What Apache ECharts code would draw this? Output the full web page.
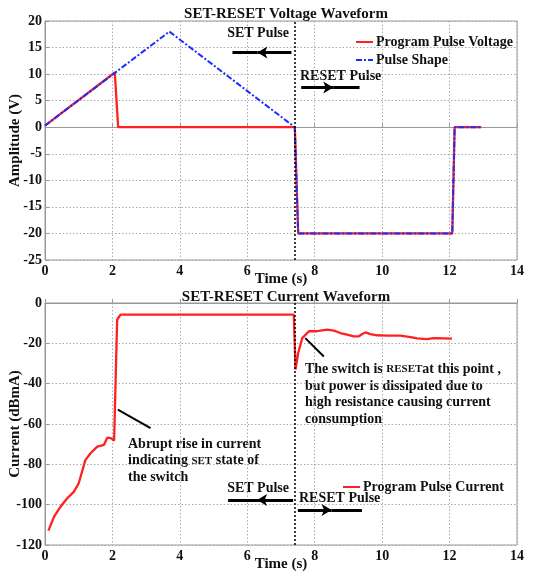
<!DOCTYPE html>
<html><head><meta charset="utf-8">
<script src="https://cdn.jsdelivr.net/npm/echarts@6/dist/echarts.min.js"></script>
<style>html,body{margin:0;padding:0;background:#fff}#c{width:535px;height:574px}</style>
</head><body><div id="c"></div>
<script>
// Voltage waveform
const programT = [0, 2.07, 2.17, 7.41, 7.51, 12.08, 12.15, 12.94];
const programV = [0.3, 10.3, 0, 0, -20, -20, 0, 0];
const shapeT = [0, 3.69, 7.41, 7.51, 12.08, 12.15, 12.94];
const shapeV = [0.3, 18, 0, -20, -20, 0, 0];
// Current waveform
const currentT = [0.1, 0.27, 0.46, 0.66, 0.86, 1.0, 1.2, 1.35, 1.55, 1.75, 1.85, 1.95, 2.05, 2.09, 2.14, 2.24, 7.38, 7.43, 7.51, 7.63, 7.83, 8.07, 8.37, 8.57, 8.76, 8.96, 9.16, 9.31, 9.41, 9.51, 9.65, 9.85, 10.15, 10.54, 10.84, 11.04, 11.33, 11.53, 11.83, 12.07];
const currentV = [-112.9, -105.9, -101, -96.8, -93.5, -89.4, -77.8, -74.5, -71.2, -70.3, -66.7, -67, -68.2, -67.5, -8.3, -5.8, -5.8, -33, -24.8, -17.4, -14, -14, -13.2, -13.7, -14.9, -15.7, -16.5, -16.5, -15.4, -14.6, -15.4, -16, -16.2, -16.2, -16.9, -17.5, -17.9, -17.4, -17.5, -17.7];
const xTicks = [0, 14, 2];
const switchT = 7.4;

const F = 'Liberation Serif';
const zip = (a, b) => a.map((v, i) => [v, b[i]]);
const chart = echarts.init(document.getElementById('c'));

function xAxis(gi) {
  return {
    gridIndex: gi, type: 'value', min: xTicks[0], max: xTicks[1], interval: xTicks[2],
    name: 'Time (s)', nameLocation: 'middle', nameGap: 12, nameMoveOverlap: false,
    nameTextStyle: {fontFamily: F, fontWeight: 'bold', fontSize: 15, color: '#111'},
    axisLine: {show: true, lineStyle: {color: '#999'}},
    axisTick: {show: true, inside: true, length: 4, lineStyle: {color: '#999'}},
    axisLabel: {fontFamily: F, fontWeight: 'bold', fontSize: 14, color: '#111', margin: 4},
    splitLine: {show: true, lineStyle: {color: '#aaa', type: [1.5, 2], width: 1}}
  };
}
function yAxis(gi, min, max, itv, name) {
  return {
    gridIndex: gi, type: 'value', min: min, max: max, interval: itv,
    name: name, nameLocation: 'middle', nameGap: 22, nameMoveOverlap: false,
    nameTextStyle: {fontFamily: F, fontWeight: 'bold', fontSize: 15, color: '#111'},
    axisLine: {show: true, lineStyle: {color: '#999'}},
    axisTick: {show: true, inside: true, length: 4, lineStyle: {color: '#999'}},
    axisLabel: {fontFamily: F, fontWeight: 'bold', fontSize: 14, color: '#111', margin: 3},
    splitLine: {show: true, lineStyle: {color: '#aaa', type: [1.5, 2], width: 1}}
  };
}
const arrowStyle = {color: '#000', width: 3, type: 'solid'};
function arrow(x1, xm, x2, y) {
  return [
    [{coord: [x1, y], symbol: 'none'}, {coord: [xm, y], symbol: 'arrow', symbolSize: [9, 10]}],
    [{coord: [xm, y], symbol: 'none'}, {coord: [x2, y], symbol: 'none'}]
  ];
}
const vline = {
  silent: true, symbol: 'none', label: {show: false},
  lineStyle: {color: '#000', type: [2, 2], width: 1.5},
  data: [{xAxis: switchT}]
};

const txt = {fontFamily: F, fontWeight: 'bold', fontSize: 14, fill: '#111'};
const legendText = {fontFamily: F, fontWeight: 'bold', fontSize: 14, color: '#111', padding: [0, 0, 0, -2]};
const option = {
  animation: false,
  backgroundColor: '#fff',
  title: [
    {text: 'SET-RESET Voltage Waveform', left: 281, top: 2, textAlign: 'center',
     textStyle: {fontFamily: F, fontWeight: 'bold', fontSize: 15, color: '#111'}},
    {text: 'SET-RESET Current Waveform', left: 281, top: 285, textAlign: 'center',
     textStyle: {fontFamily: F, fontWeight: 'bold', fontSize: 15, color: '#111'}}
  ],
  legend: [
    {left: 350, top: 30, orient: 'vertical', itemWidth: 17, itemHeight: 14, itemGap: 4,
     itemStyle: {opacity: 0}, data: ['Program Pulse Voltage', 'Pulse Shape'], textStyle: legendText},
    {left: 337, top: 475, itemWidth: 17, itemHeight: 14,
     itemStyle: {opacity: 0}, data: ['Program Pulse Current'], textStyle: legendText}
  ],
  grid: [
    {left: 45, right: 18, top: 21, height: 239, show: true, borderColor: '#999', borderWidth: 1, outerBoundsMode: 'none', containLabel: false},
    {left: 45, right: 18, top: 303, bottom: 29, show: true, borderColor: '#999', borderWidth: 1, outerBoundsMode: 'none', containLabel: false}
  ],
  xAxis: [xAxis(0), xAxis(1)],
  yAxis: [yAxis(0, -25, 20, 5, 'Amplitude (V)'), yAxis(1, -120, 0, 20, 'Current (dBmA)')],
  series: [
    {name: 'Program Pulse Voltage', type: 'line', xAxisIndex: 0, yAxisIndex: 0,
     data: zip(programT, programV), showSymbol: false, symbol: 'none',
     lineStyle: {color: '#ff2020', width: 2.3}, itemStyle: {color: '#ff2020'},
     markLine: vline},
    {name: 'Pulse Shape', type: 'line', xAxisIndex: 0, yAxisIndex: 0,
     data: zip(shapeT, shapeV), showSymbol: false, symbol: 'none',
     lineStyle: {color: '#1a2cff', width: 2, type: [6, 2, 2, 2]}, itemStyle: {color: '#1a2cff'},
     markLine: {silent: true, label: {show: false}, lineStyle: arrowStyle,
       data: arrow(7.31, 6.3, 5.56, 14.06).concat(arrow(7.6, 8.55, 9.33, 7.48))}},
    {name: 'Program Pulse Current', type: 'line', xAxisIndex: 1, yAxisIndex: 1,
     data: zip(currentT, currentV), showSymbol: false, symbol: 'none',
     lineStyle: {color: '#ff2020', width: 2.3}, itemStyle: {color: '#ff2020'},
     markLine: {silent: true, label: {show: false}, symbol: 'none', lineStyle: arrowStyle,
       data: [].concat(arrow(7.36, 6.29, 5.43, -97.7), arrow(7.5, 8.5, 9.4, -102.6), [
         [{coord: [2.16, -52.9], symbol: 'none', lineStyle: {width: 2}}, {coord: [3.13, -62], symbol: 'none'}],
         [{coord: [7.72, -17.4], symbol: 'none', lineStyle: {width: 2}}, {coord: [8.27, -26.5], symbol: 'none'}]
       ])}},
    {type: 'line', xAxisIndex: 1, yAxisIndex: 1, data: [], markLine: vline}
  ],
  graphic: [
    {type: 'text', right: 535 - 289, top: 26, style: Object.assign({text: 'SET Pulse'}, txt)},
    {type: 'text', left: 300, top: 69, style: Object.assign({text: 'RESET Pulse'}, txt)},
    {type: 'text', right: 535 - 289, top: 481, style: Object.assign({text: 'SET Pulse'}, txt)},
    {type: 'text', left: 299, top: 491, style: Object.assign({text: 'RESET Pulse'}, txt)},
    {type: 'text', left: 128, top: 436, style: Object.assign({
      text: 'Abrupt rise in current\nindicating {s|SET} state of\nthe switch', lineHeight: 16.5,
      rich: {s: {fontFamily: F, fontWeight: 'bold', fontSize: 11, fill: '#111'}}}, txt)},
    {type: 'text', left: 305, top: 361, style: Object.assign({
      text: 'The switch is {s|RESET}at this point ,\nbut power is dissipated due to\nhigh resistance causing current\nconsumption', lineHeight: 16.6,
      rich: {s: {fontFamily: F, fontWeight: 'bold', fontSize: 11, fill: '#111'}}}, txt)}
  ]
};
chart.setOption(option);
</script></body></html>
